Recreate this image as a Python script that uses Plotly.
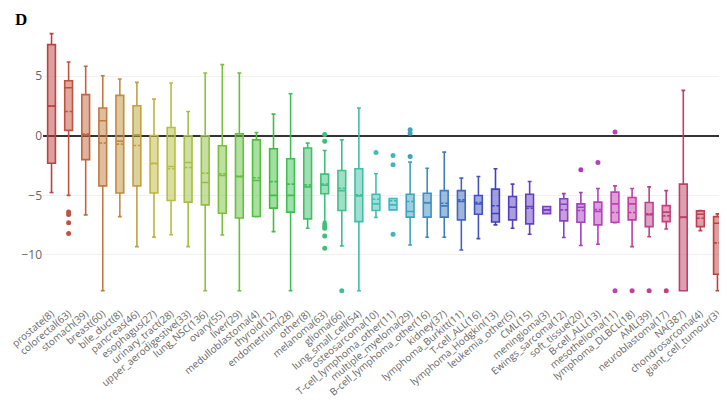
import plotly.graph_objects as go

names = ["prostate(8)", "colorectal(63)", "stomach(39)", "breast(60)", "bile_duct(8)",
         "pancreas(46)", "esophagus(27)", "urinary_tract(28)", "upper_aerodigestive(33)",
         "lung_NSC(136)", "ovary(55)", "liver(29)", "medulloblastoma(4)", "thyroid(12)",
         "endometrium(28)", "other(8)", "melanoma(63)", "glioma(66)", "lung_small_cell(54)",
         "osteosarcoma(10)", "T-cell_lymphoma_other(11)", "multiple_myeloma(29)",
         "B-cell_lymphoma_other(16)", "kidney(37)", "lymphoma_Burkitt(11)", "T-cell_ALL(16)",
         "lymphoma_Hodgkin(13)", "leukemia_other(5)", "CML(15)", "meningioma(3)",
         "Ewings_sarcoma(12)", "soft_tissue(20)", "B-cell_ALL(13)", "mesothelioma(11)",
         "lymphoma_DLBCL(18)", "AML(39)", "neuroblastoma(17)", "NA(387)",
         "chondrosarcoma(4)", "giant_cell_tumour(3)"]

upper = [8.57, 6.19, 5.83, 5.04, 4.76, 4.48, 3.08, 4.43, 2.04, 5.27,
         5.97, 5.27, 0.28, 1.82, 3.53, -0.62, -1.23, -0.34, 2.33, -3.19,
         -5.26, -2.21, -2.72, -1.37, -3.55, -3.42, -2.77, -4.06, -3.84, -5.94,
         -4.85, -4.76, -4.43, -4.2, -4.43, -4.29, -4.6, 3.81, -6.27, -6.55]
q3 = [7.65, 4.62, 3.45, 2.33, 3.39, 2.52, 0.03, 0.7, 0.0, 0.0,
      -0.84, 0.17, -0.34, -1.09, -1.93, -1.03, -3.22, -2.91, -2.77, -4.9,
      -5.26, -4.9, -4.82, -4.6, -4.6, -5.01, -4.48, -5.1, -4.9, -5.94,
      -5.29, -5.71, -5.57, -4.73, -5.18, -5.6, -5.86, -4.06, -6.3, -6.78]
median = [2.5, 4.03, 0.08, 1.26, -0.45, 0.08, -2.3, -2.58, -2.24, -3.92,
          -3.33, -3.43, -3.75, -5.0, -5.0, -4.29, -4.15, -4.6, -5.04, -5.71,
          -5.8, -6.35, -5.63, -5.88, -5.52, -5.72, -6.52, -6.0, -5.94, -6.22,
          -5.74, -6.0, -6.36, -5.71, -5.71, -6.62, -6.41, -6.83, -6.58, -7.34]
mean = [2.5, 2.04, 0.15, -0.6, -0.7, -0.81, -2.35, -2.77, -2.66, -3.14,
        -3.19, -3.4, -3.52, -3.85, -4.06, -4.12, -4.05, -4.4, -4.95, -5.32,
        -5.45, -5.52, -5.6, -5.66, -5.38, -5.6, -5.87, -6.0, -6.08, -6.22,
        -6.22, -6.27, -6.2, -6.44, -6.44, -6.55, -6.72, -6.85, -6.92, -8.99]
q1 = [-2.3, 0.45, -2.0, -4.2, -4.8, -4.2, -4.8, -5.43, -5.57, -5.8,
      -6.5, -6.9, -6.77, -6.07, -6.41, -6.97, -4.87, -6.27, -7.2, -6.27,
      -6.22, -6.83, -6.83, -6.83, -7.06, -6.58, -7.23, -7.06, -7.39, -6.53,
      -7.14, -7.26, -7.48, -7.26, -7.06, -7.62, -7.2, -13.0, -7.62, -11.62]
lower = [-4.76, -5.0, -6.64, -13.0, -6.78, -9.3, -8.5, -8.3, -9.3, -13.0,
         -8.32, -13.0, -6.78, -8.04, -13.0, -7.76, -7.2, -9.24, -13.0, -6.86,
         -6.22, -9.16, -8.51, -8.51, -9.58, -8.63, -7.48, -7.76, -8.26, -6.53,
         -8.54, -9.21, -9.1, -7.3, -9.3, -8.47, -7.82, -13.0, -7.96, -13.0]

outlier_cat = ["colorectal(63)"] * 4 + ["melanoma(63)"] * 7 + ["glioma(66)", "osteosarcoma(10)"] \
    + ["T-cell_lymphoma_other(11)"] * 3 + ["multiple_myeloma(29)"] * 3 \
    + ["soft_tissue(20)", "B-cell_ALL(13)", "mesothelioma(11)", "mesothelioma(11)",
       "lymphoma_DLBCL(18)", "AML(39)", "neuroblastoma(17)"]
outlier_val = [-6.4, -6.6, -7.3, -8.2,
               0.1, -0.45, -7.4, -7.62, -7.76, -8.4, -9.44,
               -13.0, -1.4,
               -1.65, -2.44, -8.26,
               0.5, 0.22, -1.74,
               -2.86, -2.24, 0.31, -13.0,
               -13.0, -13.0, -13.0]

n = len(names)
colors = ["hsl(%g,50%%,50%%)" % (360.0 * i / (n - 1)) for i in range(n)]

fig = go.Figure()
for i, nm in enumerate(names):
    fig.add_trace(go.Box(
        x=[nm], q1=[q1[i]], median=[median[i]], q3=[q3[i]],
        lowerfence=[lower[i]], upperfence=[upper[i]], mean=[mean[i]],
        boxmean=True, name=nm, marker_color=colors[i],
        line=dict(width=1.6), showlegend=False,
    ))
    ys = [v for c, v in zip(outlier_cat, outlier_val) if c == nm]
    if ys:
        fig.add_trace(go.Scatter(
            x=[nm] * len(ys), y=ys, mode="markers",
            marker=dict(color=colors[i], size=5), showlegend=False,
        ))

fig.update_layout(
    width=719, height=398,
    margin=dict(l=30, r=1, t=11, b=101),
    paper_bgcolor="white", plot_bgcolor="white",
    font=dict(family="Open Sans", color="#666"),
    boxgap=0.35,
    showlegend=False,
    annotations=[dict(text="<b>D</b>", xref="paper", yref="paper",
                      x=-0.0436, y=1.037, xanchor="left", yanchor="top",
                      showarrow=False,
                      font=dict(family="Liberation Serif", size=17, color="black"))],
)
fig.update_xaxes(type="category", categoryorder="array", categoryarray=names,
                 range=[-0.5, n - 0.5],
                 tickangle=-40, tickfont=dict(size=10, color="#666"),
                 showgrid=False, zeroline=False, showline=False, ticks="")
fig.update_yaxes(range=[-14.2, 9.8], tickvals=[-10, -5, 0, 5],
                 tickfont=dict(size=12, color="#666"),
                 showgrid=True, gridcolor="#f0f0f0", gridwidth=1,
                 zeroline=True, zerolinecolor="#333", zerolinewidth=1.5)

fig.write_html("out.html")
